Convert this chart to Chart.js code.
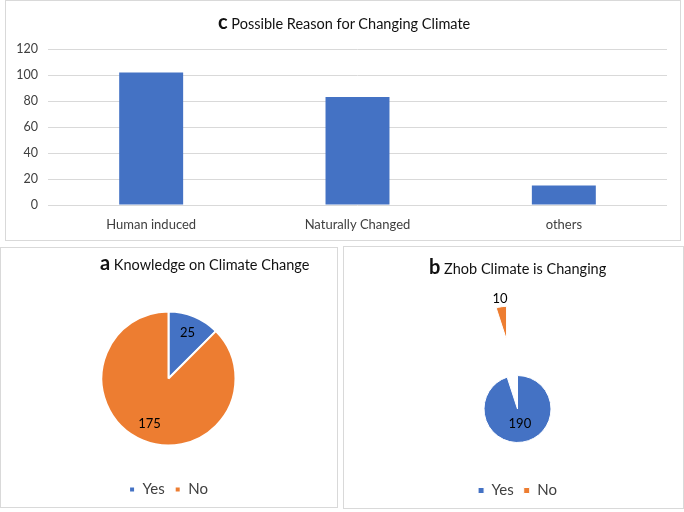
<!DOCTYPE html>
<html>
<head>
<meta charset="utf-8">
<title>Climate survey charts</title>
<script src="https://cdn.jsdelivr.net/npm/chart.js@4.4.1/dist/chart.umd.min.js"></script>
<style>
  body { margin: 0; width: 684px; height: 512px; background: #fff; font-family: Lato, sans-serif; position: relative; overflow: hidden; }
  .panel { position: absolute; border: 1px solid #d9d9d9; background: #fff; }
  .panel canvas { position: absolute; left: 0; top: 0; }
  .titulo { position: absolute; white-space: nowrap; color: #111; font-size: 14.5px; line-height: 20px; }
  .titulo b { font-size: 20px; }
</style>
</head>
<body>
<div class="panel" style="left:5px;top:0px;width:674px;height:239px;">
  <canvas id="reason-chart" width="674" height="239"></canvas>
  <div class="titulo" style="left:212px;top:10px;"><b>c</b> Possible Reason for Changing Climate</div>
</div>
<div class="panel" style="left:0px;top:247px;width:336px;height:259px;">
  <canvas id="knowledge-chart" width="336" height="259"></canvas>
  <div class="titulo" style="left:99px;top:4px;"><b>a</b> Knowledge on Climate Change</div>
</div>
<div class="panel" style="left:343px;top:246px;width:339px;height:261px;">
  <canvas id="zhob-chart" width="339" height="261"></canvas>
  <div class="titulo" style="left:85px;top:9px;"><b>b</b> Zhob Climate is Changing</div>
</div>
<script>
// datos
const reasonLabels = ['Human induced', 'Naturally Changed', 'others'];
const reasonValues = [102, 83, 15];
const reasonTicks = [0, 20, 40, 60, 80, 100, 120];

const answerLabels = ['Yes', 'No'];
const knowledgeValues = [25, 175];
const zhobValues = [190, 10];

const BLUE = '#4472C4';
const ORANGE = '#ED7D31';

Chart.defaults.font.family = 'Lato, sans-serif';
Chart.defaults.color = '#595959';

// separa una porcion del pastel (como el "explode" de Excel)
const explodePlugin = {
    id: 'explode',
    afterDatasetsUpdate(chart, args, opts) {
        const dist = opts.distance || [];
        chart.getDatasetMeta(0).data.forEach((arc, i) => {
            const d = dist[i] || 0;
            if (!d) return;
            const mid = (arc.startAngle + arc.endAngle) / 2;
            arc.x += Math.cos(mid) * d;
            arc.y += Math.sin(mid) * d;
        });
    }
};

// etiquetas con el valor de cada porcion
const sliceLabels = {
    id: 'sliceLabels',
    afterDatasetsDraw(chart, args, opts) {
        const ctx = chart.ctx;
        const values = chart.data.datasets[0].data;
        ctx.save();
        ctx.font = '13px Lato, sans-serif';
        ctx.fillStyle = '#000';
        ctx.textAlign = 'center';
        ctx.textBaseline = 'middle';
        chart.getDatasetMeta(0).data.forEach((arc, i) => {
            const mid = (arc.startAngle + arc.endAngle) / 2;
            const r = arc.outerRadius * opts.pos[i];
            ctx.fillText(values[i], arc.x + Math.cos(mid) * r, arc.y + Math.sin(mid) * r);
        });
        ctx.restore();
    }
};

new Chart(document.getElementById('reason-chart'), {
    type: 'bar',
    data: {
        labels: reasonLabels,
        datasets: [{
            data: reasonValues,
            backgroundColor: BLUE,
            barPercentage: 0.31,
            categoryPercentage: 1
        }]
    },
    options: {
        responsive: false,
        animation: false,
        events: [],
        layout: { padding: { top: 48, right: 13, bottom: 0, left: 0 } },
        plugins: { legend: { display: false }, tooltip: { enabled: false } },
        scales: {
            x: {
                grid: { display: false },
                border: { display: false },
                ticks: { padding: 4, font: { size: 13 }, color: '#404040' },
                afterFit(scale) { scale.height = 35; }
            },
            y: {
                min: reasonTicks[0],
                max: reasonTicks[reasonTicks.length - 1],
                ticks: { stepSize: reasonTicks[1] - reasonTicks[0], padding: 10, font: { size: 12.5 }, color: '#404040' },
                grid: { color: '#d9d9d9', drawTicks: false },
                border: { display: false },
                afterFit(scale) { scale.width = 42; }
            }
        }
    }
});

function pieOptions(padding, pos, distance) {
    return {
        responsive: false,
        animation: false,
        events: [],
        layout: { padding: padding },
        plugins: {
            tooltip: { enabled: false },
            legend: {
                position: 'bottom',
                labels: { boxWidth: 6, boxHeight: 6, padding: 10, font: { size: 15 }, color: '#404040' }
            },
            sliceLabels: { pos: pos },
            explode: { distance: distance }
        }
    };
}

new Chart(document.getElementById('knowledge-chart'), {
    type: 'pie',
    data: {
        labels: answerLabels,
        datasets: [{
            data: knowledgeValues,
            backgroundColor: [BLUE, ORANGE],
            borderColor: '#fff',
            borderWidth: 2,
            radius: 67
        }]
    },
    options: pieOptions({ top: 37, bottom: 0, left: 0, right: 1 }, [0.74, 0.74], [0, 0]),
    plugins: [explodePlugin, sliceLabels]
});

new Chart(document.getElementById('zhob-chart'), {
    type: 'pie',
    data: {
        labels: answerLabels,
        datasets: [{
            data: zhobValues,
            backgroundColor: [BLUE, ORANGE],
            borderColor: '#fff',
            borderWidth: 1,
            radius: 33.5
        }]
    },
    options: pieOptions({ top: 98, bottom: 0, left: 8, right: 0 }, [0.45, 1.24], [0, 70]),
    plugins: [explodePlugin, sliceLabels]
});
</script>
</body>
</html>
